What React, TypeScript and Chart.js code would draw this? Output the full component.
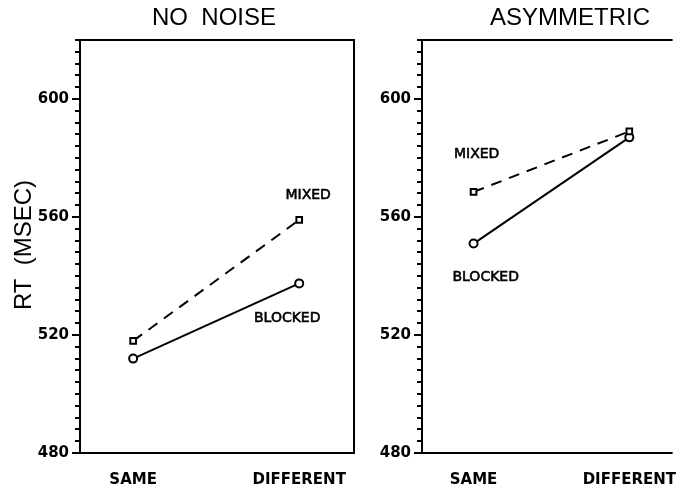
import React, { useEffect, useRef } from "react";
import { Chart, registerables } from "chart.js";

Chart.register(...registerables);

const categories = ["SAME", "DIFFERENT"];
const panelTitles = ["NO  NOISE", "ASYMMETRIC"];
const yAxisTitle = "RT  (MSEC)";
const yMajorTicks = [480, 520, 560, 600];
const yMin = 480;
const yMax = 620;
const yMinorStep = 4;

const noNoiseMixed = [518, 559];
const noNoiseBlocked = [512, 537.5];
const asymMixed = [568.5, 589];
const asymBlocked = [551, 587];

// label anchors in data coordinates [x, y]
const noNoiseLabels: [string, number, number][] = [
  ["MIXED", 1.054, 567.2],
  ["BLOCKED", 0.928, 525.6],
];
const asymLabels: [string, number, number][] = [
  ["MIXED", 0.02, 581.3],
  ["BLOCKED", 0.078, 539.5],
];

const INK = "#000";

type PanelProps = {
  left: number;
  width: number;
  yAxisWidth: number;
  xMin: number;
  xMax: number;
  mixed: number[];
  blocked: number[];
  title: string;
  titleX: number;
  labels: [string, number, number][];
  showYTitle: boolean;
  drawRight: boolean;
};

function Panel(p: PanelProps) {
  const ref = useRef<HTMLCanvasElement | null>(null);
  useEffect(() => {
    if (!ref.current) return;
    const overlay = {
      id: "overlay",
      afterDraw(chart: any) {
        const ctx = chart.ctx;
        const a = chart.chartArea;
        const xs = chart.scales.x;
        const ys = chart.scales.y;
        ctx.save();
        ctx.strokeStyle = INK;
        ctx.lineWidth = 2;
        ctx.beginPath();
        if (p.drawRight) {
          ctx.moveTo(a.left, a.top);
          ctx.lineTo(a.right, a.top);
          ctx.lineTo(a.right, a.bottom);
          ctx.lineTo(a.left, a.bottom);
          ctx.closePath();
        } else {
          ctx.moveTo(a.right + 2, a.top);
          ctx.lineTo(a.left, a.top);
          ctx.lineTo(a.left, a.bottom);
          ctx.lineTo(a.right + 2, a.bottom);
        }
        ctx.stroke();
        // major tick extensions
        ctx.lineWidth = 2;
        yMajorTicks.forEach((v) => {
          const py = ys.getPixelForValue(v);
          ctx.beginPath();
          ctx.moveTo(a.left - 8, py);
          ctx.lineTo(a.left, py);
          ctx.stroke();
        });
        ctx.fillStyle = INK;
        ctx.textAlign = "center";
        ctx.textBaseline = "middle";
        ctx.font = "24px 'Liberation Sans', Arial, sans-serif";
        ctx.fillText(p.title, p.titleX, 18);
        ctx.font = "14px 'DejaVu Sans', sans-serif";
        ctx.lineWidth = 0.6;
        p.labels.forEach(([t, x, y]) => {
          const px = xs.getPixelForValue(x);
          const py = ys.getPixelForValue(y);
          ctx.fillText(t, px, py);
          ctx.strokeText(t, px, py);
        });
        if (p.showYTitle) {
          ctx.save();
          ctx.translate(24, 245);
          ctx.rotate(-Math.PI / 2);
          ctx.font = "24px 'Liberation Sans', Arial, sans-serif";
          ctx.fillText(yAxisTitle, 0, 0);
          ctx.restore();
        }
        ctx.restore();
      },
    };
    const chart = new Chart(ref.current, {
      type: "line",
      data: {
        datasets: [
          {
            label: "MIXED",
            data: p.mixed.map((v, i) => ({ x: i, y: v })),
            borderColor: INK,
            borderWidth: 2,
            borderDash: [11, 8],
            pointStyle: "rect",
            pointRadius: 4,
            pointBorderWidth: 2,
            pointBackgroundColor: "#fff",
            pointBorderColor: INK,
            tension: 0,
          },
          {
            label: "BLOCKED",
            data: p.blocked.map((v, i) => ({ x: i, y: v })),
            borderColor: INK,
            borderWidth: 2,
            pointStyle: "circle",
            pointRadius: 4,
            pointBorderWidth: 2,
            pointBackgroundColor: "#fff",
            pointBorderColor: INK,
            tension: 0,
          },
        ],
      },
      options: {
        responsive: false,
        animation: false,
        layout: { padding: { left: 0, right: p.drawRight ? 5 : 0, top: 40, bottom: 0 } },
        plugins: { legend: { display: false }, tooltip: { enabled: false }, title: { display: false } },
        scales: {
          x: {
            type: "linear",
            min: p.xMin,
            max: p.xMax,
            afterBuildTicks: (s: any) => {
              s.ticks = categories.map((_, i) => ({ value: i }));
            },
            afterFit: (s: any) => {
              s.height = 35;
            },
            ticks: {
              callback: (v: any) => categories[v] ?? "",
              color: INK,
              font: { family: "'DejaVu Sans', sans-serif", size: 15, weight: "bold" },
              padding: 10,
              maxRotation: 0,
              autoSkip: false,
            },
            grid: { display: false },
            border: { display: false },
          },
          y: {
            type: "linear",
            min: yMin,
            max: yMax,
            afterFit: (s: any) => {
              s.width = p.yAxisWidth;
            },
            ticks: {
              stepSize: yMinorStep,
              autoSkip: false,
              callback: (v: any) => (yMajorTicks.includes(v) ? String(v) : ""),
              color: INK,
              font: { family: "'DejaVu Sans', sans-serif", size: 15, weight: "bold" },
              padding: 6,
            },
            grid: { drawOnChartArea: false, drawTicks: true, tickLength: 5, color: INK, lineWidth: 2 },
            border: { display: false },
          },
        },
      },
      plugins: [overlay],
    } as any);
    return () => chart.destroy();
  }, []);
  return (
    <canvas
      ref={ref}
      width={p.width}
      height={488}
      style={{ position: "absolute", left: p.left, top: 0, width: p.width, height: 488 }}
    />
  );
}

export default function App() {
  return (
    <div style={{ position: "fixed", left: 0, top: 0, width: 687, height: 488, background: "#fff", overflow: "hidden" }}>
      <Panel
        left={0}
        width={360}
        yAxisWidth={80}
        xMin={-0.32}
        xMax={1.33}
        mixed={noNoiseMixed}
        blocked={noNoiseBlocked}
        title={panelTitles[0]}
        titleX={214}
        labels={noNoiseLabels}
        showYTitle={true}
        drawRight={true}
      />
      <Panel
        left={355}
        width={332}
        yAxisWidth={67}
        xMin={-0.331}
        xMax={1.265}
        mixed={asymMixed}
        blocked={asymBlocked}
        title={panelTitles[1]}
        titleX={215}
        labels={asymLabels}
        showYTitle={false}
        drawRight={false}
      />
    </div>
  );
}
